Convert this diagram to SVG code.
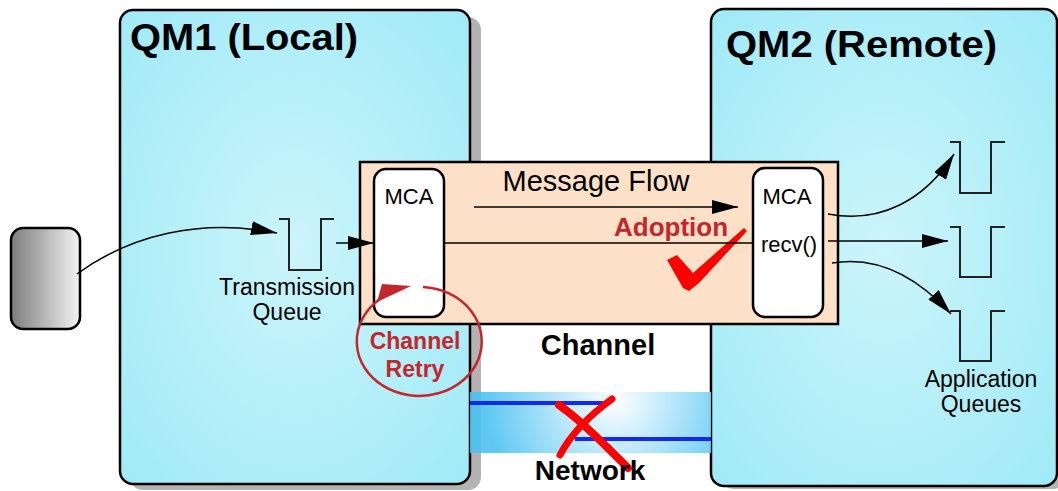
<svg xmlns="http://www.w3.org/2000/svg" width="1058" height="491" viewBox="0 0 1058 491">
<defs>
<radialGradient id="qmFill" cx="0.5" cy="0.5" r="0.7">
<stop offset="0" stop-color="#cbf5fa"/>
<stop offset="1" stop-color="#a0eaf7"/>
</radialGradient>
<linearGradient id="devFill" x1="0" y1="0" x2="1" y2="0">
<stop offset="0" stop-color="#7c7c7c"/>
<stop offset="1" stop-color="#f4f4f4"/>
</linearGradient>
<radialGradient id="netFill" gradientUnits="userSpaceOnUse" cx="615" cy="400" r="130">
<stop offset="0" stop-color="#ffffff"/>
<stop offset="1" stop-color="#4cc2f2"/>
</radialGradient>
<marker id="arr" viewBox="0 0 26 14" refX="26" refY="7" markerWidth="26" markerHeight="14" markerUnits="userSpaceOnUse" orient="auto">
<path d="M0,0 L26,7 L0,14 z" fill="#000"/>
</marker>
<style>
.qm{fill:url(#qmFill);stroke:#000;stroke-width:2.5}
.shadow{fill:#b3b3b3}
.mca{fill:#fff;stroke:#000;stroke-width:2.5}
.q{fill:none;stroke:#222;stroke-width:2}
.conn{fill:none;stroke:#000;stroke-width:1.5}
.t{font-family:"Liberation Sans",Arial,sans-serif;fill:#000}
.b{font-weight:bold}
.red{fill:#c4262b}
.net{fill:none;stroke:#1428f5;stroke-width:4}
</style>
</defs>

<g id="qm1">
<rect class="shadow" x="130" y="17" width="351" height="473" rx="13"/>
<rect class="qm" x="120" y="10" width="350" height="474" rx="13"/>
<text class="t b" x="130" y="50" font-size="37" textLength="228" lengthAdjust="spacingAndGlyphs">QM1 (Local)</text>
</g>

<g id="qm2">
<rect class="shadow" x="721" y="16" width="345" height="473" rx="13"/>
<rect class="qm" x="711" y="9" width="346" height="477" rx="13"/>
<text class="t b" x="726" y="57" font-size="37" textLength="271" lengthAdjust="spacingAndGlyphs">QM2 (Remote)</text>
</g>

<g id="network">
<rect x="470" y="392" width="241" height="61" fill="url(#netFill)" opacity="0.9"/>
<line class="net" x1="470" y1="403" x2="603" y2="403"/>
<line class="net" x1="575" y1="439" x2="711" y2="439"/>
<path d="M559,405 C580,420 600,440 628,468" fill="none" stroke="#ff0000" stroke-width="8" stroke-linecap="round"/>
<path d="M612,399 C590,415 572,432 560,455" fill="none" stroke="#ff0000" stroke-width="7" stroke-linecap="round"/>
<text class="t b" x="590" y="480" font-size="28" text-anchor="middle">Network</text>
</g>

<g id="channel">
<rect x="360" y="162" width="478" height="162" fill="#fde0c8" stroke="#000" stroke-width="2.5"/>
<text class="t" x="596" y="191" font-size="29" text-anchor="middle">Message Flow</text>
<text class="t b" x="598" y="355" font-size="29" text-anchor="middle">Channel</text>
</g>

<g id="mca-local">
<rect class="mca" x="374" y="169" width="70" height="148" rx="12"/>
<text class="t" x="409" y="204" font-size="22" text-anchor="middle">MCA</text>
</g>

<g id="mca-remote">
<rect class="mca" x="753" y="168" width="70" height="149" rx="12"/>
<text class="t" x="787" y="204" font-size="22" text-anchor="middle">MCA</text>
<text class="t" x="789" y="252" font-size="22" text-anchor="middle">recv()</text>
</g>

<g id="adoption">
<text class="t b red" x="614" y="236" font-size="26">Adoption</text>
<polygon points="667,260 677,255 693,273 744,228 747,231 699,283 689,291 683,288" fill="#ff0000"/>
</g>

<g id="retry">
<path d="M423,287 A62.5,54.5 0 1 1 380,299" fill="none" stroke="#c4262b" stroke-width="2.5"/>
<polygon points="377,302 411,286 382,284" fill="#c4262b"/>
<text class="t b red" x="415" y="349" font-size="23" text-anchor="middle">Channel</text>
<text class="t b red" x="415" y="377" font-size="23" text-anchor="middle">Retry</text>
</g>

<g id="device">
<rect x="11" y="228" width="69" height="101" rx="12" fill="url(#devFill)" stroke="#000" stroke-width="2.5"/>
</g>

<g id="xmitq">
<path class="q" d="M279,219 H289 V270 H321 V219 H334"/>
<text class="t" x="287" y="295" font-size="23" text-anchor="middle">Transmission</text>
<text class="t" x="287" y="320" font-size="23" text-anchor="middle">Queue</text>
</g>

<g id="appqs">
<path class="q" d="M950,142 H960 V193 H991 V142 H1005"/>
<path class="q" d="M950,227 H960 V277 H991 V227 H1005"/>
<path class="q" d="M950,311 H960 V361 H991 V311 H1005"/>
<text class="t" x="981" y="387" font-size="23" text-anchor="middle">Application</text>
<text class="t" x="981" y="412" font-size="23" text-anchor="middle">Queues</text>
</g>

<g id="connectors">
<path class="conn" d="M77,274 C130,235 200,218 277,233" marker-end="url(#arr)"/>
<path class="conn" d="M336,243 L374,243" marker-end="url(#arr)"/>
<path class="conn" d="M474,207 L738,207" marker-end="url(#arr)"/>
<path class="conn" d="M444,243 L753,243"/>
<path class="conn" d="M828,214 C880,224 925,200 954,154" marker-end="url(#arr)"/>
<path class="conn" d="M828,241 L948,241" marker-end="url(#arr)"/>
<path class="conn" d="M832,263 C880,255 920,280 951,314" marker-end="url(#arr)"/>
</g>
</svg>
